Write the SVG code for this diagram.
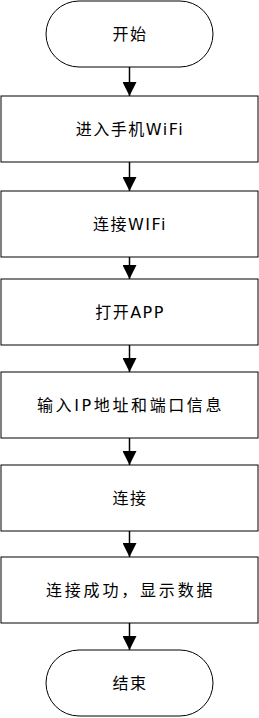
<svg xmlns="http://www.w3.org/2000/svg" width="259" height="718" viewBox="0 0 259 718">
<defs>
<style>
.n{fill:#fff;stroke:#000;stroke-width:1}
.t{font-family:"DejaVu Sans","Noto Sans CJK SC",sans-serif;font-size:16px;letter-spacing:1.5px;text-anchor:middle;dominant-baseline:central;fill:#000}
.e{fill:none;stroke:#000;stroke-width:1.5}
</style>
<marker id="a" markerWidth="14" markerHeight="14" viewBox="0 0 14 14" refX="14" refY="7" orient="auto" markerUnits="userSpaceOnUse">
<path d="M0,0 L14,7 L0,14 Z" fill="#000"/>
</marker>
</defs>
<rect width="259" height="718" fill="#fff"/>
<g id="connectors">
<line class="e" x1="129.5" y1="67" x2="129.5" y2="96" marker-end="url(#a)"/>
<line class="e" x1="129.5" y1="162" x2="129.5" y2="191" marker-end="url(#a)"/>
<line class="e" x1="129.5" y1="257" x2="129.5" y2="279" marker-end="url(#a)"/>
<line class="e" x1="129.5" y1="345" x2="129.5" y2="372" marker-end="url(#a)"/>
<line class="e" x1="129.5" y1="438" x2="129.5" y2="465" marker-end="url(#a)"/>
<line class="e" x1="129.5" y1="531" x2="129.5" y2="557" marker-end="url(#a)"/>
<line class="e" x1="129.5" y1="623" x2="129.5" y2="650" marker-end="url(#a)"/>
</g>
<g id="start"><rect class="n" x="46" y="1" width="167" height="66" rx="33"/><text class="t" x="130" y="34">开始</text></g>
<g id="step1"><rect class="n" x="1" y="96" width="257" height="66"/><text class="t" x="130" y="129">进入手机WiFi</text></g>
<g id="step2"><rect class="n" x="1" y="191" width="257" height="66"/><text class="t" x="130" y="224">连接WIFi</text></g>
<g id="step3"><rect class="n" x="1" y="279" width="257" height="66"/><text class="t" x="130" y="312">打开APP</text></g>
<g id="step4"><rect class="n" x="1" y="372" width="257" height="66"/><text class="t" x="130" y="405" textLength="186" lengthAdjust="spacing">输入IP地址和端口信息</text></g>
<g id="step5"><rect class="n" x="1" y="465" width="257" height="66"/><text class="t" x="130" y="498">连接</text></g>
<g id="step6"><rect class="n" x="1" y="557" width="257" height="66"/><text class="t" x="130" y="590" textLength="168" lengthAdjust="spacing">连接成功，显示数据</text></g>
<g id="end"><rect class="n" x="46" y="650" width="167" height="66" rx="33"/><text class="t" x="130" y="683">结束</text></g>
</svg>
